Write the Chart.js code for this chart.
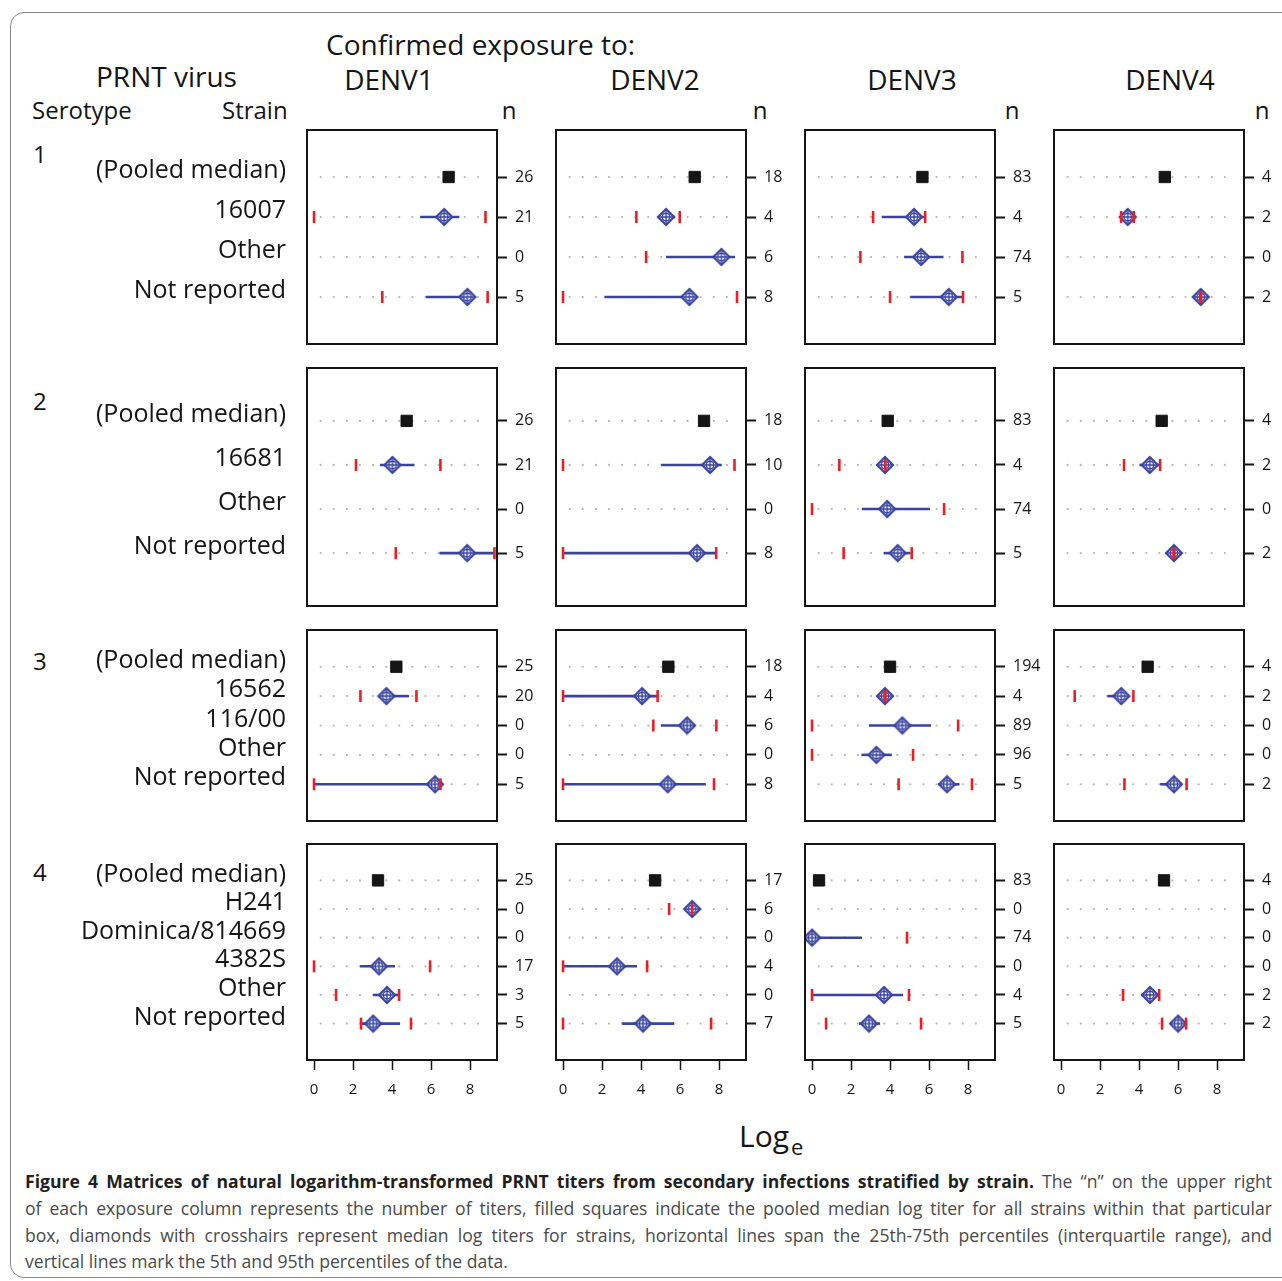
<!DOCTYPE html>
<html><head><meta charset="utf-8">
<script src="https://cdn.jsdelivr.net/npm/chart.js@4.4.1/dist/chart.umd.min.js"></script>
<style>
html,body{margin:0;padding:0;background:#fff}
body{width:1282px;height:1281px;overflow:hidden;position:relative;font-family:'Open Sans',sans-serif}
.t{position:absolute;white-space:nowrap;line-height:1;color:#151515}
.h28{font-size:28px}
.h24{font-size:24px}
.c{transform:translateX(-50%)}
canvas{position:absolute}
.frame{position:absolute;left:10px;top:12px;width:1300px;height:1266px;border:1.5px solid #8a8a8a;border-radius:14px;box-sizing:border-box}
.cap{position:absolute;left:25px;width:1247px;font-size:17.6px;line-height:1.2;color:#4a4a4a;text-align:justify;text-align-last:justify;white-space:nowrap}
.cap b{color:#231f20}
</style></head><body>
<div class="frame"></div>

<div class="t h28" style="left:326px;top:30px">Confirmed exposure to:</div>
<div class="t h28" style="left:96px;top:62px">PRNT virus</div>
<div class="t h28 c" style="left:389px;top:65px">DENV1</div>
<div class="t h28 c" style="left:655px;top:65px">DENV2</div>
<div class="t h28 c" style="left:912px;top:65px">DENV3</div>
<div class="t h28 c" style="left:1170px;top:65px">DENV4</div>
<div class="t h24" style="left:32px;top:98px">Serotype</div>
<div class="t h24" style="left:222px;top:98px">Strain</div>
<div class="t h24 c" style="left:509px;top:98px">n</div>
<div class="t h24 c" style="left:760px;top:98px">n</div>
<div class="t h24 c" style="left:1012px;top:98px">n</div>
<div class="t h24 c" style="left:1262px;top:98px">n</div>
<div id="sero"></div>
<div class="t" style="left:739px;top:1121px;font-size:30px">Log<span style="font-size:22px;position:relative;top:8px;margin-left:2px">e</span></div>

<div class="cap" style="top:1171px"><b>Figure 4 Matrices of natural logarithm-transformed PRNT titers from secondary infections stratified by strain.</b> The “n” on the upper right</div>
<div class="cap" style="top:1198px">of each exposure column represents the number of titers, filled squares indicate the pooled median log titer for all strains within that particular</div>
<div class="cap" style="top:1225px">box, diamonds with crosshairs represent median log titers for strains, horizontal lines span the 25th-75th percentiles (interquartile range), and</div>
<div class="cap" style="top:1251px;text-align-last:left">vertical lines mark the 5th and 95th percentiles of the data.</div>

<script>
// ---------------- DATA ----------------
const exposures = ['DENV1','DENV2','DENV3','DENV4'];
const serotypeIds = ['1','2','3','4'];
const pooledLabel = '(Pooled median)';
const xTicks = [0,2,4,6,8];

// Serotype 1
const strains1 = ['16007','Other','Not reported'];
const n1 = [[26,21,0,5],[18,4,6,8],[83,4,74,5],[4,2,0,2]];
const pooled1 = [6.9,6.75,5.66,5.32];
const med1  = [[6.67,null,7.86],[5.28,8.12,6.48],[5.23,5.59,7.01],[3.42,null,7.16]];
const q25_1 = [[5.44,null,5.73],[4.84,5.28,2.12],[3.57,4.72,5.04],[3.3,null,7.16]];
const q75_1 = [[7.45,null,7.86],[5.74,8.82,6.48],[5.8,6.74,7.74],[3.6,null,7.16]];
const p5_1  = [[0,null,3.5],[3.76,4.26,0],[3.13,2.48,4.0],[3.08,null,7.14]];
const p95_1 = [[8.79,null,8.9],[5.98,null,8.92],[5.8,7.71,7.74],[3.73,null,7.18]];

// Serotype 2
const strains2 = ['16681','Other','Not reported'];
const n2 = [[26,21,0,5],[18,10,0,8],[83,4,74,5],[4,2,0,2]];
const pooled2 = [4.75,7.23,3.88,5.16];
const med2  = [[4.02,null,7.85],[7.54,null,6.87],[3.74,3.85,4.39],[4.55,null,5.79]];
const q25_2 = [[3.38,null,6.43],[5.03,null,0],[3.6,2.55,3.68],[4.02,null,5.79]];
const q75_2 = [[5.15,null,9.25],[8.14,null,7.85],[3.85,6.05,5.03],[5.08,null,5.79]];
const p5_2  = [[2.15,null,4.19],[0,null,0],[1.4,0,1.62],[3.23,null,5.77]];
const p95_2 = [[6.48,null,9.25],[8.79,null,7.85],[3.76,6.77,5.11],[5.08,null,5.81]];

// Serotype 3
const strains3 = ['16562','116/00','Other','Not reported'];
const n3 = [[25,20,0,0,5],[18,4,6,0,8],[194,4,89,96,5],[4,2,0,0,2]];
const pooled3 = [4.22,5.4,4.0,4.44];
const med3  = [[3.71,null,null,6.2],[4.05,6.36,null,5.37],[3.74,4.63,3.3,6.92],[3.09,null,null,5.79]];
const q25_3 = [[3.55,null,null,0],[0,5.03,null,0],[3.7,2.92,2.53,6.48],[2.38,null,null,5.08]];
const q75_3 = [[4.87,null,null,6.4],[4.85,6.68,null,7.32],[3.78,6.1,4.09,7.56],[3.35,null,null,6.1]];
const p5_3  = [[2.38,null,null,0],[0,4.63,null,0],[3.72,0,0,4.44],[0.7,null,null,3.25]];
const p95_3 = [[5.25,null,null,6.48],[4.85,7.86,null,7.74],[3.76,7.49,5.18,8.2],[3.71,null,null,6.44]];

// Serotype 4
const strains4 = ['H241','Dominica/814669','4382S','Other','Not reported'];
const n4 = [[25,0,0,17,3,5],[17,6,0,4,0,7],[83,0,74,0,4,5],[4,0,0,0,2,2]];
const pooled4 = [3.28,4.72,0.36,5.28];
const med4  = [[null,null,3.33,3.74,3.03],[6.62,null,2.77,null,4.1],[null,0,null,3.69,2.92],[null,null,null,4.56,6.0]];
const q25_4 = [[null,null,2.36,3.03,2.41],[6.5,null,0,null,3.03],[null,0,null,0,2.41],[null,null,null,4.1,5.59]];
const q75_4 = [[null,null,4.15,4.36,4.41],[6.75,null,3.79,null,5.69],[null,2.56,null,4.67,3.49],[null,null,null,5.03,6.41]];
const p5_4  = [[null,null,0,1.13,2.41],[5.44,null,0,null,0],[null,null,null,0,0.72],[null,null,null,3.18,5.18]];
const p95_4 = [[null,null,5.95,4.36,4.97],[6.62,null,4.31,null,7.59],[null,4.87,null,4.97,5.59],[null,null,null,5.03,6.41]];

// ---------------- LAYOUT / STYLE ----------------
const BLUE = '#3a44a0', RED = '#ee1d23', DOT = '#b5b5b5', INK = '#151515';
const X_MIN = -0.36, X_MAX = 9.38;
const GUIDE_FROM = 0.34, GUIDE_TO = 8.42;
const panelLeft = [307,556,805,1054];
const panelTop = [130,368,630,844];
const panelBottom = [344,606,821,1060];
const PANEL_W = 190, RIGHT_W = 48, X_AXIS_H = 44;
const yPad = [1.175,1.2,1.25,1.27];
const seroTop = [142,389,649,860];

const groups = [
  {strains:strains1,n:n1,pooled:pooled1,med:med1,q25:q25_1,q75:q75_1,p5:p5_1,p95:p95_1},
  {strains:strains2,n:n2,pooled:pooled2,med:med2,q25:q25_2,q75:q75_2,p5:p5_2,p95:p95_2},
  {strains:strains3,n:n3,pooled:pooled3,med:med3,q25:q25_3,q75:q75_3,p5:p5_3,p95:p95_3},
  {strains:strains4,n:n4,pooled:pooled4,med:med4,q25:q25_4,q75:q75_4,p5:p5_4,p95:p95_4}
];

const seroDiv = document.getElementById('sero');
serotypeIds.forEach((s,i)=>{
  const d=document.createElement('div'); d.className='t h24'; d.style.left='33px'; d.style.top=seroTop[i]+'px'; d.textContent=s; seroDiv.appendChild(d);
});

function makeDiamond(){
  const s=20, c=document.createElement('canvas'); c.width=s; c.height=s;
  const g=c.getContext('2d'); const m=s/2, h=8;
  g.fillStyle='#fff'; g.strokeStyle=BLUE; g.lineWidth=2.2; g.lineJoin='miter';
  g.beginPath(); g.moveTo(m,m-h); g.lineTo(m+h,m); g.lineTo(m,m+h); g.lineTo(m-h,m); g.closePath(); g.fill(); g.stroke();
  g.lineWidth=1.4;
  g.beginPath(); g.arc(m,m,3.8,0,Math.PI*2); g.stroke();
  g.beginPath(); g.moveTo(m,m-h); g.lineTo(m,m+h); g.moveTo(m-h,m); g.lineTo(m+h,m); g.stroke();
  return c;
}
const diamondImg = makeDiamond();

const boxPlugin = {id:'box', afterDatasetsDraw(chart){
  const {ctx, chartArea:a} = chart; ctx.save(); ctx.strokeStyle=INK; ctx.lineWidth=2;
  ctx.strokeRect(a.left, a.top, a.right-a.left, a.bottom-a.top); ctx.restore();
}};

function noPad(ax){ ax.paddingTop=0; ax.paddingBottom=0; ax.paddingLeft=0; ax.paddingRight=0; }

function buildPanel(r, c){
  const g = groups[r];
  const labels = [pooledLabel].concat(g.strains);
  const k = labels.length;
  const leftW = c===0 ? panelLeft[0] : 4;
  const cv = document.createElement('canvas');
  const W = leftW + PANEL_W + RIGHT_W;
  const H = 4 + (panelBottom[r]-panelTop[r]) + (r===3 ? X_AXIS_H : 4);
  cv.width = W; cv.height = H;
  cv.style.left = (panelLeft[c]-leftW)+'px'; cv.style.top = (panelTop[r]-4)+'px';
  document.body.appendChild(cv);

  const ds = [];
  for(let i=0;i<k;i++){
    ds.push({data:[{x:GUIDE_FROM,y:i},{x:GUIDE_TO,y:i}], showLine:true, borderColor:DOT, borderWidth:2.2,
      borderDash:[0,13.1], borderCapStyle:'round', pointRadius:0, order:6});
  }
  const med = g.med[c], q25=g.q25[c], q75=g.q75[c], p5=g.p5[c], p95=g.p95[c];
  med.forEach((m,j)=>{
    if(q25[j]!=null && q75[j]!=null){
      ds.push({data:[{x:q25[j],y:j+1},{x:q75[j],y:j+1}], showLine:true, borderColor:BLUE, borderWidth:2.6,
        pointRadius:0, order:4});
    }
  });
  ds.push({data: med.map((m,j)=> m==null?null:{x:m,y:j+1}).filter(p=>p), pointStyle:diamondImg, pointRadius:9, order:3});
  ds.push({data:[{x:g.pooled[c], y:0}], pointStyle:'rect', pointRadius:8, backgroundColor:INK, borderColor:INK, pointBorderWidth:1, order:3});
  const reds = [];
  p5.forEach((v,j)=>{ if(v!=null) reds.push({x:v,y:j+1}); });
  p95.forEach((v,j)=>{ if(v!=null) reds.push({x:v,y:j+1}); });
  ds.push({data:reds, pointStyle:'line', pointRotation:90, pointRadius:6, borderColor:RED, pointBorderColor:RED, pointBorderWidth:2.6, order:1});

  const yMin = -yPad[r], yMax = (k-1)+yPad[r];
  const idx = labels.map((_,i)=>i);
  const showX = r===3;
  const scales = {
    x: {type:'linear', min:X_MIN, max:X_MAX, display: showX, position:'bottom',
      grid:{drawOnChartArea:false, drawTicks:true, tickLength:10, tickColor:INK, tickWidth:1.5},
      border:{display:false},
      ticks:{color:INK, font:{family:'Open Sans', size:15}, padding:11, autoSkip:false, maxRotation:0},
      afterBuildTicks: ax => { ax.ticks = xTicks.map(v=>({value:v})); },
      afterFit: ax => { ax.height = showX ? X_AXIS_H : 0; noPad(ax); }
    },
    y: {type:'linear', position:'right', min:yMin, max:yMax, reverse:true,
      grid:{drawOnChartArea:false, drawTicks:true, tickLength:10, tickColor:INK, tickWidth:2},
      border:{display:false},
      ticks:{color:INK, font:{family:'Open Sans', size:16}, padding:8, autoSkip:false,
        callback: v => { const i=Math.round(v); return g.n[c][i]!=null ? String(g.n[c][i]) : ''; }},
      afterBuildTicks: ax => { ax.ticks = idx.map(v=>({value:v})); },
      afterFit: ax => { ax.width = RIGHT_W; noPad(ax); }
    }
  };
  if(c===0){
    scales.yl = {type:'linear', position:'left', min:yMin, max:yMax, reverse:true,
      grid:{drawOnChartArea:false, drawTicks:false},
      border:{display:false},
      ticks:{color:INK, font:{family:'Open Sans', size:25}, padding:21, labelOffset:-6, autoSkip:false,
        callback: v => labels[Math.round(v)]},
      afterBuildTicks: ax => { ax.ticks = idx.map(v=>({value:v})); },
      afterFit: ax => { ax.width = panelLeft[0]; noPad(ax); }
    };
  }
  new Chart(cv, {
    type:'scatter',
    data:{datasets:ds},
    options:{responsive:false, animation:false, devicePixelRatio:1,
      layout:{autoPadding:false, padding:{left: c===0?0:4, right:0, top:4, bottom: r===3?0:4}},
      plugins:{legend:{display:false}, tooltip:{enabled:false}},
      events:[],
      scales},
    plugins:[boxPlugin]
  });
}

for(let r=0;r<4;r++) for(let c=0;c<4;c++) buildPanel(r,c);
</script>
</body></html>
